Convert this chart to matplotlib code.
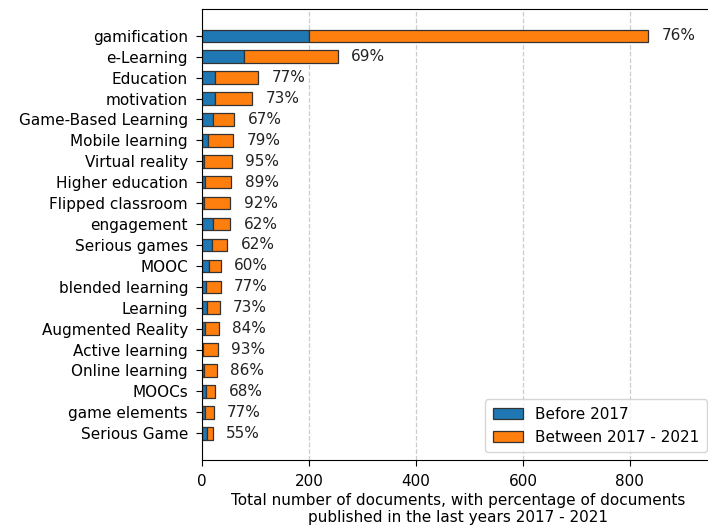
import matplotlib
matplotlib.use("Agg")
import matplotlib.pyplot as plt
import numpy as np

categories = ["gamification", "e-Learning", "Education", "motivation", "Game-Based Learning",
              "Mobile learning", "Virtual reality", "Higher education", "Flipped classroom",
              "engagement", "Serious games", "MOOC", "blended learning", "Learning",
              "Augmented Reality", "Active learning", "Online learning", "MOOCs",
              "game elements", "Serious Game"]
before_2017 = [200, 79, 24, 25, 20, 12, 3, 6, 4, 20, 18, 14, 8, 9, 5, 2, 4, 8, 5, 9]
between_2017_2021 = [634, 175, 81, 69, 40, 46, 53, 49, 49, 33, 29, 21, 27, 24, 26, 28, 24, 17, 17, 11]
pct_labels = ["76%", "69%", "77%", "73%", "67%", "79%", "95%", "89%", "92%", "62%",
              "62%", "60%", "77%", "73%", "84%", "93%", "86%", "68%", "77%", "55%"]

plt.rcParams['font.size'] = 11
plt.rcParams['font.family'] = ['DejaVu Sans']

W, H = 708, 529
fig = plt.figure(figsize=(W / 100, H / 100), dpi=100)
left, right, top, bottom = 202, 715, 9, 460
ax = fig.add_axes([left / W, 1 - bottom / H, (right - left) / W, (bottom - top) / H])

y = np.arange(len(categories))
before = np.array(before_2017)
between = np.array(between_2017_2021)
total = before + between

ax.barh(y, before, height=0.6, color="#1f77b4", edgecolor="#333333", linewidth=0.9,
        label="Before 2017", zorder=2)
ax.barh(y, between, left=before, height=0.6, color="#ff7f0e", edgecolor="#333333",
        linewidth=0.9, label="Between 2017 - 2021", zorder=2)

offset = total.max() * 0.03
for yi, t, lab in zip(y, total, pct_labels):
    ax.text(t + offset, yi, lab, va="center", ha="left", fontsize=11, color="#222222")

ax.set_yticks(y)
ax.set_yticklabels(categories)
ax.invert_yaxis()
ax.set_xlim(0, total.max() * 1.15)
ax.set_xticks([0, 200, 400, 600, 800])
ax.tick_params(axis="both", length=4.5, pad=5.5)
ax.grid(axis="x", linestyle="--", color="#cccccc", linewidth=0.9)
ax.set_axisbelow(True)
ax.set_xlabel("Total number of documents, with percentage of documents\npublished in the last years 2017 - 2021",
              labelpad=3)
ax.legend(loc="lower right", fontsize=11, borderpad=0.5, borderaxespad=0.5)

fig.savefig("out.png", dpi=100)
